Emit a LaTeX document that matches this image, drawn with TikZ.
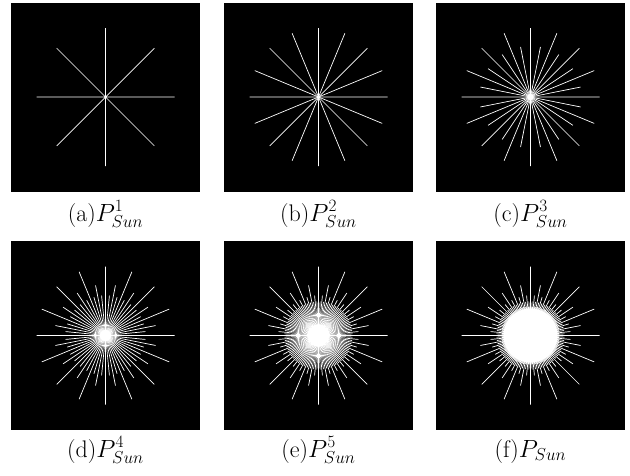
\documentclass[tikz,border=0pt]{standalone}
\usepackage{tikz}

\def\SunSide{189}
\def\SunDisk{24}

\tikzset{
  panel/.style={fill=black, inner sep=0pt, minimum width=\SunSide pt, minimum height=\SunSide pt},
  ray/.style={white, line width=0.7pt},
  caption/.style={font=\fontsize{24}{28}\selectfont, anchor=base, inner sep=0pt},
}

% rays of the sun pattern up to level #2, around node #1
\newcommand\SunRays[2]{%
  \foreach \lev/\len in {1/69, 2/69, 3/51, 4/40, 5/34, 6/29, 7/27} {
    \ifnum\lev>#2\relax\else
      \ifnum\lev=1
        \def\stp{45}\def\off{0}\def\cnt{7}
      \else
        \pgfmathsetmacro\stp{90/2^(\lev-1)}
        \pgfmathsetmacro\off{\stp/2}
        \pgfmathtruncatemacro\cnt{2^(\lev+1)-1}
      \fi
      \draw[ray] foreach \j in {0,...,\cnt} {(#1.center) -- ++(\off+\j*\stp:\len)};
    \fi
  }%
}

\begin{document}
\begin{tikzpicture}[x=1pt, y=-1pt]
  \useasboundingbox (0,0) rectangle (630,475);

  % panels
  \node[panel] (pA) at (105.5, 97) {};
  \node[panel] (pB) at (318.5, 97) {};
  \node[panel] (pC) at (530.5, 97) {};
  \node[panel] (pD) at (105.5, 335.5) {};
  \node[panel] (pE) at (318.5, 335.5) {};
  \node[panel] (pF) at (530.5, 335.5) {};

  \SunRays{pA}{1}
  \SunRays{pB}{2}
  \SunRays{pC}{3}
  \SunRays{pD}{4}
  \SunRays{pE}{5}
  \fill[white] (pF.center) circle (\SunDisk);
  \SunRays{pF}{7}

  % captions
  \node[caption] (lA) at (105.5, 221) {(a)$P^1_{Sun}$};
  \node[caption] (lB) at (318.5, 221) {(b)$P^2_{Sun}$};
  \node[caption] (lC) at (530.5, 221) {(c)$P^3_{Sun}$};
  \node[caption] (lD) at (105.5, 457) {(d)$P^4_{Sun}$};
  \node[caption] (lE) at (318.5, 457) {(e)$P^5_{Sun}$};
  \node[caption] (lF) at (530.5, 457) {(f)$P_{Sun}$};
\end{tikzpicture}
\end{document}
